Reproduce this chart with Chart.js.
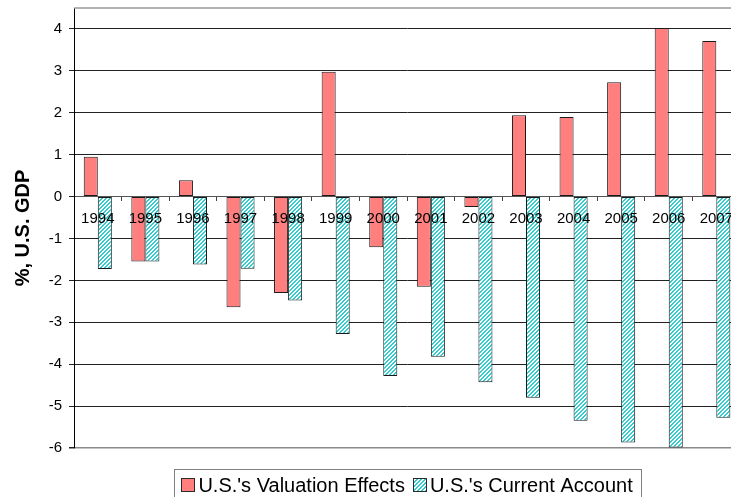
<!DOCTYPE html>
<html>
<head>
<meta charset="utf-8">
<script src="https://cdn.jsdelivr.net/npm/chart.js@4.4.1/dist/chart.umd.min.js"></script>
<style>
	html, body { margin: 0; padding: 0; overflow: hidden; background: #fff; }
	#wrap { position: relative; width: 742px; height: 497px; }
</style>
</head>
<body>
<div id="wrap"><canvas id="chart"></canvas></div>
<script>
	'use strict';

	// Data
	var years = [ '1994', '1995', '1996', '1997', '1998', '1999', '2000', '2001', '2002', '2003', '2004', '2005', '2006', '2007' ];
	var valuationEffects = [ 0.95, -1.55, 0.39, -2.64, -2.30, 2.98, -1.21, -2.15, -0.25, 1.94, 1.90, 2.73, 4.02, 3.71 ];
	var currentAccount = [ -1.73, -1.55, -1.62, -1.72, -2.48, -3.28, -4.28, -3.82, -4.43, -4.80, -5.35, -5.87, -5.99, -5.28 ];
	var yMin = -6;
	var yMax = 4.5;

	var FONT = '"Liberation Sans", Arial, sans-serif';

	// Diagonal hatch for the current account bars (crisp 4px stripes)
	function makeHatch() {
		var c = document.createElement( 'canvas' );
		c.width = 4;
		c.height = 4;
		var g = c.getContext( '2d' );
		g.fillStyle = '#fff';
		g.fillRect( 0, 0, 4, 4 );
		g.fillStyle = '#33CCCC';
		for ( var y = 0; y < 4; y++ ) {
			for ( var x = 0; x < 4; x++ ) {
				var k = ( x + y ) % 4;
				if ( k === 0 || k === 3 ) {
					g.fillRect( x, y, 1, 1 );
				}
			}
		}
		return g.createPattern( c, 'repeat' );
	}

	// Excel style legend: small boxes, tight gap, framed
	var boxLegend = {
		id: 'boxLegend',
		afterDraw: function( chart ) {
			var ctx = chart.ctx;
			var a = chart.chartArea;
			var sets = chart.data.datasets;
			var box = 14, gapText = 3, gapItem = 8;
			var baseline = 492;

			ctx.save();
			ctx.font = '20px ' + FONT;
			var widths = sets.map( function( ds ) {
				return ctx.measureText( ds.label ).width;
			} );
			var total = 0;
			widths.forEach( function( w, i ) {
				total += box + gapText + w + ( i ? gapItem : 0 );
			} );
			var x = ( a.left + a.right ) / 2 - total / 2;

			// frame
			ctx.strokeStyle = '#808080';
			ctx.lineWidth = 1;
			var fl = Math.round( x - 7 ) + 0.5;
			var fr = Math.round( x + total + 8 ) + 0.5;
			ctx.strokeRect( fl, 469.5, fr - fl, chart.height );

			ctx.textBaseline = 'alphabetic';
			sets.forEach( function( ds, i ) {
				ctx.fillStyle = ds.backgroundColor;
				ctx.fillRect( Math.round( x ), 478, box, box );
				ctx.strokeStyle = '#2a2a2a';
				ctx.strokeRect( Math.round( x ) + 0.5, 478.5, box - 1, box - 1 );
				ctx.fillStyle = '#000';
				ctx.fillText( ds.label, x + box + gapText, baseline );
				x += box + gapText + widths[i] + gapItem;
			} );
			ctx.restore();
		}
	};

	// Grey frame line along the top of the plot area
	var plotTop = {
		id: 'plotTop',
		beforeDatasetsDraw: function( chart ) {
			var a = chart.chartArea;
			var ctx = chart.ctx;
			ctx.save();
			ctx.strokeStyle = '#9a9a9a';
			ctx.lineWidth = 1.5;
			ctx.beginPath();
			ctx.moveTo( a.left, a.top );
			ctx.lineTo( a.right, a.top );
			ctx.stroke();
			ctx.restore();
		}
	};

	var ctx = document.getElementById( 'chart' ).getContext( '2d' );

	new Chart( ctx, {
		type: 'bar',
		data: {
			labels: years,
			datasets: [
				{
					label: 'U.S.\'s Valuation Effects',
					data: valuationEffects,
					backgroundColor: '#FF7F7F',
					borderColor: '#1a1a1a',
					borderWidth: 1,
					borderSkipped: false
				},
				{
					label: 'U.S.\'s Current Account',
					data: currentAccount,
					backgroundColor: makeHatch(),
					borderColor: '#1a1a1a',
					borderWidth: 1,
					borderSkipped: false
				}
			]
		},
		options: {
			responsive: true,
			maintainAspectRatio: false,
			animation: false,
			categoryPercentage: 0.59,
			barPercentage: 1,
			layout: {
				padding: { top: 8, left: 0, right: 0, bottom: 49 }
			},
			plugins: {
				legend: { display: false },
				tooltip: { enabled: false }
			},
			scales: {
				x: {
					position: { y: 0 },
					grid: {
						display: true,
						drawOnChartArea: false,
						drawTicks: true,
						tickLength: 4,
						tickColor: '#444'
					},
					border: { display: true, color: '#555', width: 1 },
					ticks: {
						z: 1,
						color: '#000',
						padding: 9,
						maxRotation: 0,
						autoSkip: false,
						font: { family: FONT, size: 15 }
					}
				},
				y: {
					min: yMin,
					max: yMax,
					afterBuildTicks: function( scale ) {
						scale.ticks = scale.ticks.filter( function( t ) {
							return Number.isInteger( t.value );
						} );
					},
					afterFit: function( scale ) {
						scale.width = 74;
						scale.paddingTop = 0;
						scale.paddingBottom = 0;
					},
					grid: {
						color: function( c ) {
							return c.tick && c.tick.value === yMin ? '#8a8a8a' : '#222';
						},
						lineWidth: function( c ) {
							return c.tick && c.tick.value === yMin ? 1.5 : 1;
						},
						tickLength: 5,
						tickColor: '#222'
					},
					border: { display: true, color: '#000', width: 1 },
					ticks: {
						stepSize: 1,
						color: '#000',
						padding: 7,
						font: { family: FONT, size: 15 }
					},
					title: {
						display: true,
						text: '%, U.S. GDP',
						color: '#000',
						padding: { top: 11, bottom: 0 },
						font: { family: FONT, size: 20, weight: 'bold' }
					}
				}
			}
		},
		plugins: [ boxLegend, plotTop ]
	} );
</script>
</body>
</html>
